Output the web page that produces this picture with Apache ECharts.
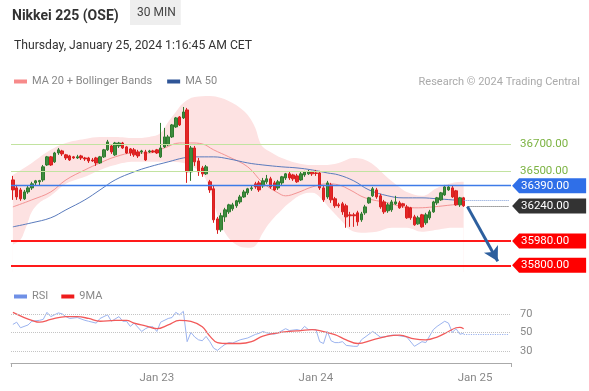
<!DOCTYPE html>
<html><head><meta charset="utf-8">
<script src="https://cdn.jsdelivr.net/npm/echarts@6/dist/echarts.min.js"></script>
<style>html,body{margin:0;padding:0;background:#fff}#c{width:589px;height:391px}</style>
</head><body><div id="c"></div>
<script>
// ---- price candles (30 min) ----
const open = [36433,36374,36359,36293,36344,36374,36411,36419,36433,36544,
36604,36567,36633,36648,36619,36611,36604,36596,36611,36596,
36596,36581,36596,36559,36604,36656,36685,36619,36685,36707,
36678,36663,36656,36641,36641,36641,36641,36648,36656,36604,
36678,36693,36752,36826,36900,36893,36952,36493,36670,36574,
36522,36478,36419,36367,36144,36063,36159,36196,36219,36241,
36270,36307,36337,36367,36404,36411,36389,36419,36441,36411,
36374,36411,36448,36478,36470,36463,36433,36470,36478,36493,
36485,36485,36374,36307,36396,36293,36248,36256,36241,36174,
36174,36189,36137,36189,36263,36315,36359,36315,36270,36204,
36211,36256,36263,36256,36233,36226,36159,36107,36174,36115,
36152,36196,36263,36285,36322,36359,36374,36352,36248,36300];
const close = [36359,36307,36293,36344,36374,36404,36426,36428,36530,36604,
36544,36633,36656,36626,36596,36581,36596,36604,36596,36589,
36574,36574,36559,36604,36656,36715,36641,36707,36707,36670,
36633,36633,36619,36611,36648,36581,36648,36641,36633,36670,
36752,36752,36841,36893,36841,36937,36493,36670,36567,36493,
36478,36530,36359,36137,36063,36167,36211,36248,36248,36278,
36307,36344,36367,36374,36381,36359,36426,36441,36381,36359,
36419,36456,36478,36448,36441,36419,36478,36493,36493,36478,
36481,36374,36285,36411,36285,36241,36241,36196,36159,36167,
36167,36122,36181,36233,36300,36367,36307,36233,36196,36248,
36270,36270,36226,36241,36152,36152,36100,36152,36085,36174,
36196,36270,36300,36337,36381,36381,36307,36248,36300,36241];
const high = [36463,36396,36374,36359,36389,36419,36433,36433,36544,36611,
36611,36641,36670,36656,36626,36619,36611,36619,36619,36604,
36604,36596,36604,36611,36663,36730,36693,36715,36715,36715,
36685,36670,36670,36656,36656,36656,36656,36656,36663,36856,
36819,36767,36848,36900,36907,36974,36967,36685,36685,36596,
36537,36544,36433,36389,36159,36189,36226,36256,36263,36285,
36322,36359,36374,36389,36419,36426,36448,36470,36456,36426,
36433,36463,36485,36493,36478,36478,36493,36500,36507,36500,
36507,36500,36389,36426,36411,36307,36263,36270,36256,36196,
36189,36204,36196,36248,36307,36381,36374,36330,36285,36263,
36285,36315,36278,36263,36248,36233,36174,36167,36181,36189,
36211,36278,36307,36344,36396,36396,36389,36359,36307,36307];
const low = [36285,36285,36278,36285,36330,36359,36389,36389,36419,36537,
36537,36559,36619,36611,36581,36574,36589,36589,36581,36574,
36559,36567,36537,36552,36596,36648,36626,36611,36670,36663,
36626,36611,36604,36596,36626,36574,36633,36633,36626,36596,
36670,36685,36744,36819,36833,36885,36411,36426,36537,36463,
36456,36470,36337,36115,36033,36048,36122,36181,36204,36226,
36256,36300,36322,36352,36367,36344,36374,36404,36367,36352,
36359,36396,36433,36433,36426,36411,36426,36456,36470,36463,
36463,36359,36270,36293,36263,36226,36226,36174,36078,36085,
36085,36093,36122,36174,36256,36307,36293,36219,36181,36189,
36196,36248,36219,36226,36144,36137,36093,36100,36078,36100,
36137,36189,36248,36278,36315,36352,36300,36241,36233,36233];

// ---- Bollinger bands (bar index, price) ----
const upperIdx = [0,5,10,14,19,23,27,32,36,39,41,43,45,48,52,55,58,60,62,64,65,66,68,71,75,79,82,86,90,94,99,102,104,108,112,116,119];
const upperVal = [36470,36559,36656,36707,36737,36752,36752,36744,36752,36781,36863,36937,37004,37048,37056,37041,37004,36967,36915,36819,36730,36678,36641,36596,36559,36544,36544,36559,36596,36567,36448,36381,36344,36315,36374,36411,36419];
const lowerIdx = [0,2,3,4,5,7,10,14,19,23,27,32,36,41,45,48,50,52,54,56,59,62,64,66,68,71,73,76,79,81,84,87,89,92,96,100,104,108,112,116,119];
const lowerVal = [35952,35989,36048,36122,36196,36263,36315,36404,36456,36507,36544,36567,36567,36567,36559,36522,36485,36359,36174,36041,35952,35930,35945,36041,36122,36211,36263,36322,36337,36307,36211,36122,36063,36041,36048,36078,36078,36048,36063,36078,36078];
// ---- moving averages ----
const ma20Idx = [0,5,10,14,19,23,27,32,36,40,44,47,50,53,57,62,66,70,72,75,79,83,86,89,93,99,103,107,111,116,119];
const ma20Val = [36233,36285,36344,36433,36507,36559,36604,36633,36633,36670,36707,36707,36700,36656,36604,36530,36411,36337,36315,36337,36381,36404,36396,36359,36300,36263,36233,36226,36233,36248,36256];
const ma50Idx = [0,5,10,14,19,23,27,32,36,41,45,48,53,57,62,66,71,75,79,83,86,90,94,99,103,108,112,116,119];
const ma50Val = [36085,36115,36152,36211,36285,36359,36433,36493,36530,36567,36596,36604,36604,36589,36559,36544,36530,36522,36507,36485,36470,36426,36359,36315,36300,36300,36293,36285,36278];

// ---- levels ----
const greenLevels = [36700, 36500];
const resistance = 36390;
const lastPrice = 36240;
const supports = [35980, 35800];
const ma50Last = 36282;
const arrowFrom = [120, 36235];
const arrowTo = [128, 35830];

// ---- RSI ----
const rsiIdx = [0,1,2,4,5,7,8,9,10,12,13,14,15,17,19,20,22,23,25,26,28,29,30,31,32,34,35,36,37,38,39,41,42,43,44,45,46,47,48,49,50,51,52,53,54,55,56,57,58,60,62,64,65,66,67,69,70,72,73,75,76,77,78,80,81,82,83,84,85,86,87,88,90,91,92,95,97,98,100,101,104,106,108,109,111,112,114,115,116,117,118,119];
const rsiVal = [58.6,61,55,58,62,63,64,71.6,67,71,70,67,65,66,63,62,60,65,69,62,67,62,62,56.5,60,51,54,56,56,51,61,65,66,71.6,69,72.7,40,50,45,42,41,45.7,40,33,30.6,34,37,39,38.5,42,44,47.8,49,51,49.5,48,49.5,54,52,53,52,56.5,53,53,40,38,51,41,39,39,40,36,35,35,42,51,45,45,47,47,45,35,40,39,53,56.5,62,60,50,54,48,49];
const rsiLast = 48;
const maRsiIdx = [0,3,5,7,10,14,17,20,23,27,30,32,35,38,41,44,47,50,52,54,57,60,63,66,70,73,76,79,81,85,88,91,95,99,102,106,109,112,115,117,118,119];
const maRsiVal = [71.6,66,63,61,64,67,67,65,62,63,63,60,57,54,58,63,62,56,46,39,38,38,40,46,49.5,51,52,53,52,47.5,42,38,42,46,47,43,42,45,51,55,55.5,54];
const rsiLevels = [70, 50, 30];

// ---- axis ----
const slotCount = 132;
const xLabelIdx = [38, 80, 122];
const xLabelText = ['Jan 23', 'Jan 24', 'Jan 25'];

const cats = [];
for (let i = 0; i < slotCount; i++) cats.push('b' + i);
const candleData = open.map((o, i) => [o, close[i], low[i], high[i]]);
const pairs = (xs, ys) => xs.map((x, i) => [x, ys[i]]);
const FONT = 'Roboto, sans-serif';

const tagPath = 'path://M0,7.5 L7,0 L74,0 L74,15 L7,15 Z';
function tag(v, color) {
  return { coord: [slotCount - 1, v], value: v, itemStyle: { color: color } };
}

const chart = echarts.init(document.getElementById('c'), null, { renderer: 'canvas' });
chart.setOption({
  animation: false,
  backgroundColor: '#fff',
  textStyle: { fontFamily: FONT },
  title: [
    { text: 'Nikkei 225 (OSE)', left: 7, top: 4, textStyle: { fontSize: 14, fontWeight: 'bold', color: '#333', fontFamily: FONT } },
    { text: '30 MIN', left: 130, top: 0, backgroundColor: '#eeeeee', padding: [7, 5, 6, 7], textStyle: { fontSize: 12, fontWeight: 'normal', color: '#444', fontFamily: FONT } },
    { text: 'Thursday, January 25, 2024 1:16:45 AM CET', left: 9, top: 35, textStyle: { fontSize: 12.2, fontWeight: 'normal', color: '#333', fontFamily: FONT } },
    { text: 'Research © 2024 Trading Central', right: 4, top: 72, textStyle: { fontSize: 11, fontWeight: 'normal', color: '#aaa', fontFamily: FONT } }
  ],
  legend: [
    { left: 9, top: 71, itemWidth: 13, itemHeight: 4, itemGap: 15, icon: 'rect',
      textStyle: { fontSize: 11, color: '#888', fontFamily: FONT },
      data: [{ name: 'MA 20 + Bollinger Bands', itemStyle: { color: '#f78a8a' } }, { name: 'MA 50', itemStyle: { color: '#2f5597' } }] },
    { left: 9, top: 286, itemWidth: 13, itemHeight: 4, itemGap: 13, icon: 'rect',
      textStyle: { fontSize: 11, color: '#888', fontFamily: FONT },
      data: [{ name: 'RSI', itemStyle: { color: '#6f90e6' } }, { name: '9MA', itemStyle: { color: '#ee1c1c' } }] }
  ],
  grid: [
    { left: 11, right: 78, top: 90, height: 182 },
    { left: 11, right: 78, top: 299, height: 64 }
  ],
  xAxis: [
    { type: 'category', gridIndex: 0, data: cats, boundaryGap: true, show: false },
    { type: 'category', gridIndex: 1, data: cats, boundaryGap: true, position: 'bottom',
      axisLine: { show: false }, axisTick: { show: false },
      axisLabel: { interval: (i) => xLabelIdx.indexOf(i) >= 0, formatter: (v, i) => xLabelText[xLabelIdx.indexOf(i)] || '',
        color: '#888', fontSize: 11.5, margin: 9, fontFamily: FONT } },
    { type: 'value', gridIndex: 1, min: 0, max: 1, interval: 1, position: 'bottom',
      axisLine: { show: true, lineStyle: { color: '#aaa', width: 1 } },
      axisTick: { show: true, length: 4, lineStyle: { color: '#aaa' } },
      axisLabel: { show: false }, splitLine: { show: false } }
  ],
  yAxis: [
    { type: 'value', gridIndex: 0, min: 35750, max: 37100, show: false, splitLine: { show: false } },
    { type: 'value', gridIndex: 1, min: 17, max: 86, show: false, splitLine: { show: false } }
  ],
  series: [
    { name: 'bandUpper', type: 'line', xAxisIndex: 0, yAxisIndex: 0, data: pairs(upperIdx, upperVal), smooth: 0.4,
      symbol: 'none', silent: true, z: 1, lineStyle: { width: 0, opacity: 0 },
      areaStyle: { color: '#fde2e2', opacity: 1, origin: 'start' } },
    { name: 'bandLower', type: 'line', xAxisIndex: 0, yAxisIndex: 0, data: pairs(lowerIdx, lowerVal), smooth: 0.4,
      symbol: 'none', silent: true, z: 1, lineStyle: { width: 0, opacity: 0 },
      areaStyle: { color: '#ffffff', opacity: 1, origin: 'start' } },
    { name: 'MA 20 + Bollinger Bands', type: 'line', xAxisIndex: 0, yAxisIndex: 0, data: pairs(ma20Idx, ma20Val), smooth: 0.4,
      symbol: 'none', z: 3, itemStyle: { color: '#f39494' }, lineStyle: { color: '#f39494', width: 1 } },
    { name: 'MA 50', type: 'line', xAxisIndex: 0, yAxisIndex: 0, data: pairs(ma50Idx, ma50Val), smooth: 0.4,
      symbol: 'none', z: 3, itemStyle: { color: '#5a7bbd' }, lineStyle: { color: '#5a7bbd', width: 1 } },
    { name: 'Nikkei 225', type: 'candlestick', xAxisIndex: 0, yAxisIndex: 0, data: candleData, barWidth: 3, z: 4,
      itemStyle: { color: '#3d8c3d', color0: '#e32626', borderColor: '#2f7a2f', borderColor0: '#d91f1f', borderWidth: 1 },
      markLine: {
        silent: true, symbol: ['none', 'none'], animation: false,
        label: { show: false },
        data: [
          ...greenLevels.map(v => ({ yAxis: v, lineStyle: { color: '#c2e3a0', width: 1, type: 'solid' },
            label: { show: true, position: 'end', distance: 9, formatter: v.toFixed(2), color: '#7cb342', fontSize: 11.5, fontFamily: FONT } })),
          { yAxis: resistance, lineStyle: { color: '#3d7be8', width: 1.3, type: 'solid' } },
          ...supports.map(v => ({ yAxis: v, lineStyle: { color: '#ff1a1a', width: 2, type: 'solid' } })),
          [{ coord: [119, ma50Last], lineStyle: { color: '#7d9bd6', width: 1, type: 'dotted' } }, { coord: [slotCount - 1, ma50Last] }],
          [{ coord: [120, lastPrice], lineStyle: { color: '#555', width: 1, type: 'dotted' } }, { coord: [slotCount - 1, lastPrice] }],
          [{ coord: arrowFrom, symbol: 'none', lineStyle: { color: '#2d5f9e', width: 3, type: 'solid' } },
           { coord: arrowTo, symbol: 'arrow', symbolSize: [12, 14] }]
        ]
      },
      markPoint: {
        silent: true, symbol: tagPath, symbolSize: [74, 15], symbolOffset: [40, 0], animation: false,
        label: { show: true, position: 'inside', offset: [-4, 0], color: '#fff', fontSize: 11.5, fontFamily: FONT,
          formatter: p => Number(p.value).toFixed(2) },
        data: [tag(resistance, '#2f6fe8'), tag(lastPrice, '#333333'), tag(supports[0], '#ff0000'), tag(supports[1], '#ff0000')]
      }
    },
    { name: 'RSI', type: 'line', xAxisIndex: 1, yAxisIndex: 1, data: pairs(rsiIdx, rsiVal), symbol: 'none', z: 3,
      itemStyle: { color: '#9cb4ef' }, lineStyle: { color: '#9cb4ef', width: 1 },
      markLine: {
        silent: true, symbol: ['none', 'none'], animation: false,
        data: [
          ...rsiLevels.map(v => ({ yAxis: v, lineStyle: { color: '#c4c4c4', width: 1, type: 'dotted' },
            label: { show: true, position: 'end', distance: 9, formatter: String(v), color: '#888', fontSize: 11, fontFamily: FONT } })),
          [{ coord: [119, rsiLast], lineStyle: { color: '#9cb4ef', width: 1.2, type: 'dotted' }, label: { show: false } }, { coord: [slotCount - 1, rsiLast] }]
        ]
      } },
    { name: '9MA', type: 'line', xAxisIndex: 1, yAxisIndex: 1, data: pairs(maRsiIdx, maRsiVal), smooth: 0.4, symbol: 'none', z: 4,
      itemStyle: { color: '#f25a5a' }, lineStyle: { color: '#f25a5a', width: 1.3 } }
  ]
});
</script>
</body></html>
